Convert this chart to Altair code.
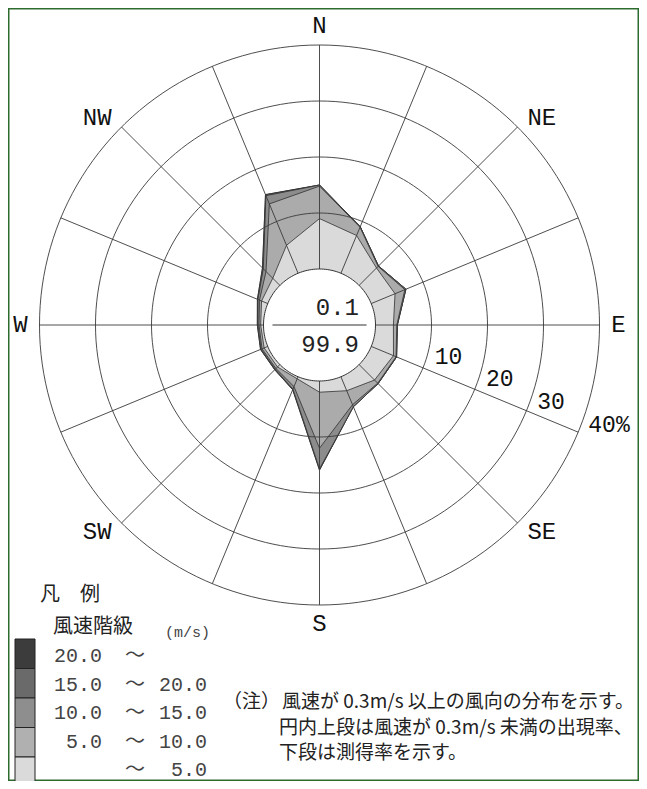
import altair as alt
import pandas as pd
import numpy as np

# ---------------- data ----------------
directions = ["N", "NNE", "NE", "ENE", "E", "ESE", "SE", "SSE",
              "S", "SSW", "SW", "WSW", "W", "WNW", "NW", "NNW"]
# frequency (%) of each wind-speed class per direction
v_lt5   = [9.0, 7.3, 4.4, 4.6, 3.2, 4.3, 3.9, 2.7, 2.0, 0.4, 0.6, 0.7, 0.5, 1.2, 1.8, 5.4]
v_5_10  = [5.8, 1.6, 0.4, 1.9, 0.6, 0.5, 0.8, 2.7, 10.0, 1.5, 0.4, 0.4, 0.3, 0.4, 1.7, 8.0]
v_10_15 = [0.2, 0.1, 0.1, 0.2, 0.1, 0.1, 0.1, 0.4, 3.7, 0.5, 0.2, 0.2, 0.2, 0.3, 0.7, 1.6]
v_15_20 = [0.0, 0.0, 0.0, 0.0, 0.0, 0.0, 0.0, 0.0, 0.2, 0.1, 0.1, 0.1, 0.1, 0.1, 0.2, 0.2]
v_20    = [0.0] * 16
class_values = [v_lt5, v_5_10, v_10_15, v_15_20, v_20]

calm_rate = "0.1"
valid_rate = "99.9"
ring_values = [10, 20, 30, 40]
ring_labels = ["10", "20", "30", "40%"]
compass = ["N", "NE", "E", "SE", "S", "SW", "W", "NW"]

legend_lo = ["20.0", "15.0", "10.0", "5.0", ""]
legend_hi = ["", "20.0", "15.0", "10.0", "5.0"]
legend_fill = ["#3c3c3c", "#6a6a6a", "#8e8e8e", "#b0b0b0", "#dadada"]
class_fill = ["#dadada", "#ababab", "#8c8c8c", "#6a6a6a", "#3c3c3c"]

note_head = "（注）"
note_lines = ["風速が 0.3m/s 以上の風向の分布を示す。",
              "円内上段は風速が 0.3m/s 未満の出現率、",
              "下段は測得率を示す。"]

# ---------------- layout ----------------
W, H = 631, 773
CX, CY = 311.5, 317.0
R0, K = 56.0, 5.6          # calm circle radius (px), px per percent
RMAX = R0 + K * 40
MONO = "Liberation Mono"
JP = "Noto Sans CJK JP"


def pol(r, bearing_deg):
    b = np.radians(bearing_deg)
    return CX + r * np.sin(b), CY - r * np.cos(b)


# rose polygons (cumulative per class)
rows = []
cum = np.zeros(16)
for k, vals in enumerate(class_values):
    cum = cum + np.array(vals)
    for i, d in enumerate(directions):
        x, y = pol(R0 + K * cum[i], i * 22.5)
        rows.append({"cls": k, "i": i, "dir": d, "x": x, "y": y})
poly = pd.DataFrame(rows)

# rings
ring_rows = []
for rr in [0] + ring_values:
    for j in range(0, 361, 2):
        x, y = pol(R0 + K * rr, j)
        ring_rows.append({"ring": rr, "j": j, "x": x, "y": y})
rings = pd.DataFrame(ring_rows)

# spokes
sp = []
for i, d in enumerate(directions):
    x1, y1 = pol(R0, i * 22.5)
    x2, y2 = pol(RMAX, i * 22.5)
    sp.append({"dir": d, "x": x1, "y": y1, "x2": x2, "y2": y2})
spokes = pd.DataFrame(sp)

xs = alt.Scale(domain=[0, W])
ys = alt.Scale(domain=[0, H], reverse=True)
X = alt.X("x:Q", scale=xs, axis=None)
Y = alt.Y("y:Q", scale=ys, axis=None)

layers = []
for k in reversed(range(5)):
    layers.append(
        alt.Chart(poly).transform_filter(alt.datum.cls == k)
        .mark_line(interpolate="linear-closed", fill=class_fill[k],
                   stroke="#303030", strokeWidth=0.8)
        .encode(x=X, y=Y, order="i:Q")
    )

# calm circle (white)
layers.append(
    alt.Chart(rings).transform_filter(alt.datum.ring == 0)
    .mark_line(interpolate="linear-closed", fill="white",
               stroke="#333333", strokeWidth=1)
    .encode(x=X, y=Y, order="j:Q")
)
# rings
layers.append(
    alt.Chart(rings).transform_filter(alt.datum.ring > 0)
    .mark_line(interpolate="linear-closed", stroke="#3a3a3a", strokeWidth=0.9)
    .encode(x=X, y=Y, detail="ring:N", order="j:Q")
)
# spokes
layers.append(
    alt.Chart(spokes).mark_rule(color="#3a3a3a", strokeWidth=0.9)
    .encode(x=X, y=Y, x2="x2:Q", y2="y2:Q")
)
# divider inside calm circle
div = pd.DataFrame([{"x": CX - R0 * 0.84, "x2": CX + R0 * 0.84, "y": CY}])
layers.append(
    alt.Chart(div).mark_rule(color="#333333", strokeWidth=1.2)
    .encode(x=X, x2="x2:Q", y=Y)
)
# calm / valid rates
rates = pd.DataFrame([
    {"t": calm_rate, "x": CX + R0 * 0.705, "y": CY - 17},
    {"t": valid_rate, "x": CX + R0 * 0.705, "y": CY + 19.5},
])
layers.append(
    alt.Chart(rates).mark_text(font=MONO, fontSize=24, align="right",
                               baseline="middle", color="#222222")
    .encode(x=X, y=Y, text="t:N")
)

# compass labels (intercardinals sit a little closer to the E-W axis)
cl = []
for n, name in enumerate(compass):
    if n % 2 == 0:
        x, y = pol(299, n * 45)
    else:
        quadrant_bearing = {1: 47, 3: 133, 5: 227, 7: 313}[n]
        x, y = pol(304, quadrant_bearing)
    cl.append({"t": name, "x": x, "y": y})
layers.append(
    alt.Chart(pd.DataFrame(cl)).mark_text(font=MONO, fontSize=24, align="center",
                                          baseline="middle", color="#111111")
    .encode(x=X, y=Y, text="t:N")
)

# ring labels
rl = []
for v, t in zip(ring_values, ring_labels):
    x, y = pol(R0 + K * v, 90 + 24)
    rl.append({"t": t, "x": x + 13, "y": y - 14})
layers.append(
    alt.Chart(pd.DataFrame(rl)).mark_text(font=MONO, fontSize=23, align="left",
                                          baseline="middle", color="#111111")
    .encode(x=X, y=Y, text="t:N")
)

# legend
BOX_TOP, BOX_H = 631.0, 29.5
TXT_TOP, TXT_STEP = 648.0, 28.5
lg = []
for i in range(5):
    lg.append({"x": 7, "x2": 27, "y": BOX_TOP + i * BOX_H,
               "y2": BOX_TOP + (i + 1) * BOX_H, "c": legend_fill[i],
               "lo": legend_lo[i], "hi": legend_hi[i],
               "ym": TXT_TOP + i * TXT_STEP})
lg = pd.DataFrame(lg)
layers.append(
    alt.Chart(lg).mark_rect(stroke="#222222", strokeWidth=1)
    .encode(x=X, x2="x2:Q", y=Y, y2="y2:Q",
            fill=alt.Fill("c:N", scale=None))
)
YM = alt.Y("ym:Q", scale=ys, axis=None)
layers.append(
    alt.Chart(lg).mark_text(font=MONO, fontSize=20, align="right",
                            baseline="middle", color="#444444")
    .encode(x=alt.value(94), y=YM, text="lo:N")
)
layers.append(
    alt.Chart(lg).mark_text(font=JP, fontSize=20, align="center",
                            baseline="middle", color="#444444")
    .encode(x=alt.value(127), y=YM, text=alt.value("〜"))
)
layers.append(
    alt.Chart(lg).mark_text(font=MONO, fontSize=20, align="right",
                            baseline="middle", color="#444444")
    .encode(x=alt.value(199), y=YM, text="hi:N")
)
heads = pd.DataFrame([
    {"t": "凡　例", "x": 32, "y": 587},
    {"t": "風速階級", "x": 45, "y": 619},
])
layers.append(
    alt.Chart(heads).mark_text(font=JP, fontSize=20, align="left",
                               baseline="middle", color="#222222")
    .encode(x=X, y=Y, text="t:N")
)
layers.append(
    alt.Chart(pd.DataFrame([{"t": "(m/s)", "x": 157, "y": 624}]))
    .mark_text(font=MONO, fontSize=15, align="left", baseline="middle",
               color="#444444")
    .encode(x=X, y=Y, text="t:N")
)
# note
layers.append(
    alt.Chart(pd.DataFrame([{"t": note_head, "x": 215, "y": 694}]))
    .mark_text(font=JP, fontSize=19, align="left", baseline="middle",
               color="#222222")
    .encode(x=X, y=Y, text="t:N")
)
nl = pd.DataFrame([{"t": t, "x": 271 if n else 274, "y": 694 + 25.5 * n}
                   for n, t in enumerate(note_lines)])
layers.append(
    alt.Chart(nl).mark_text(font=JP, fontSize=19, align="left",
                            baseline="middle", color="#222222")
    .encode(x=X, y=Y, text="t:N")
)

chart = (
    alt.layer(*layers)
    .properties(width=W, height=H, padding=0,
                autosize=alt.AutoSizeParams(type="none"),
                background="white")
    .configure_view(stroke="#2e6b2e", strokeWidth=3)
)
chart.save("out.html", embed_options={"renderer": "svg", "actions": False})
